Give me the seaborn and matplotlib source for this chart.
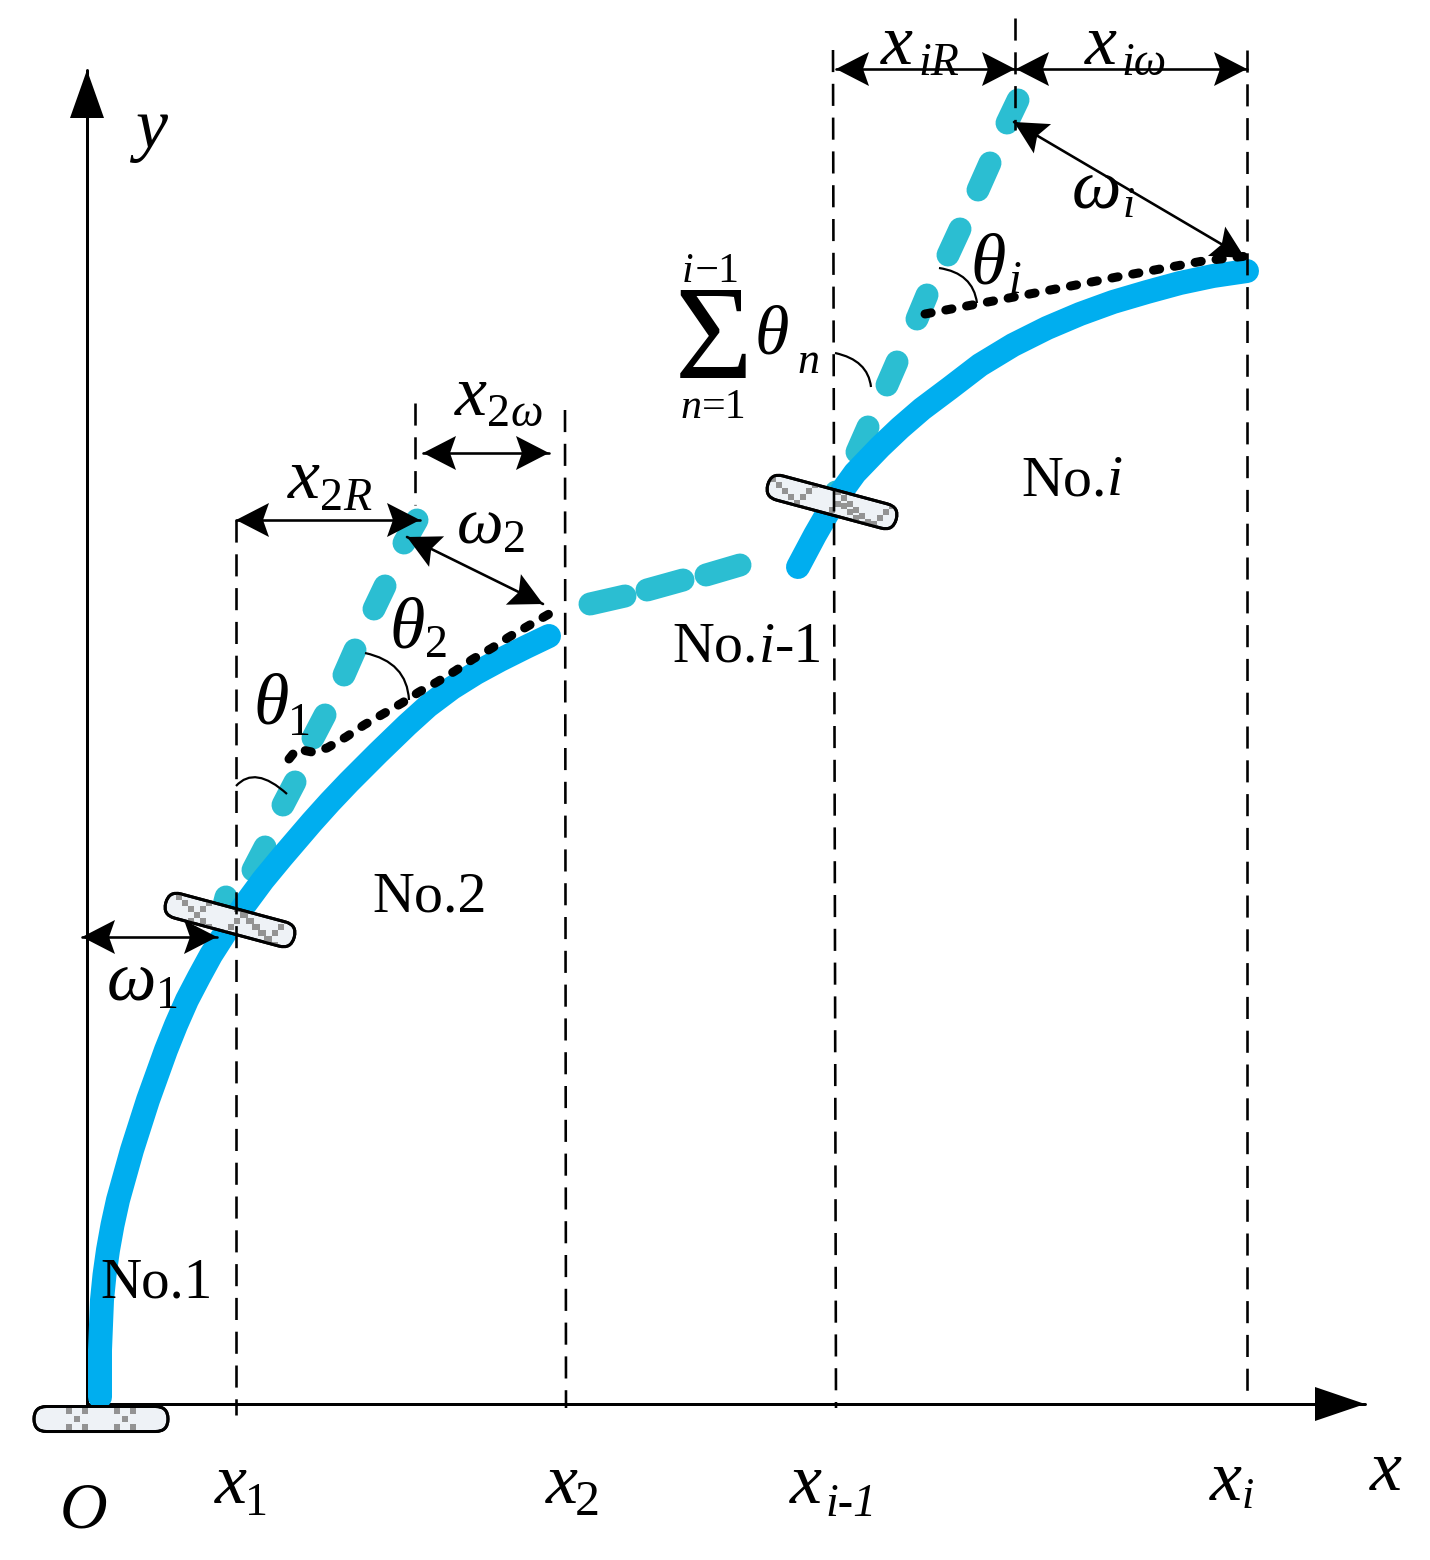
import numpy as np
import matplotlib
matplotlib.use("Agg")
import matplotlib.pyplot as plt
import seaborn as sns
from matplotlib.patches import FancyBboxPatch, PathPatch, Polygon
from matplotlib.path import Path
from matplotlib.transforms import Affine2D

# ---------- data (in picture pixels) ----------
link_a_x = [100, 100, 102, 104.5, 108, 112.5, 118, 125, 132, 140, 148, 157, 166, 176, 187, 199, 211,
            227, 246, 263, 282, 312, 330, 349, 378, 407, 428, 452, 476, 500, 526, 549]
link_a_y = [1397, 1350, 1300, 1275, 1250, 1225, 1200, 1175, 1150, 1125, 1100, 1075, 1050, 1025,
            1000, 977, 955, 930, 903, 880, 857, 822, 802, 782, 753, 725, 706, 688, 673, 660, 647, 636]
link_b_x = [798, 815, 834, 855, 880, 900, 922, 950, 980, 1013, 1047, 1080, 1113, 1147, 1180, 1213, 1247]
link_b_y = [567, 535, 502, 473, 447, 428, 409, 388, 365, 345, 328, 314, 302, 292, 283, 276, 271]

teal_segments = [
    ((222, 913), (226, 897)), ((253, 870), (265, 847)), ((283, 805), (295, 782)),
    ((313, 738), (325, 715)), ((344, 675), (355, 650)), ((374, 609), (385, 586)),
    ((404, 543), (417, 520)), ((590, 604), (625, 596)), ((647, 590), (683, 580)),
    ((706, 575), (740, 565)), ((830, 505), (836, 492)), ((857, 452), (868, 427)),
    ((887, 385), (897, 362)), ((917, 319), (927, 295)), ((948, 255), (960, 229)),
    ((978, 190), (990, 163)), ((1007, 123), (1018, 100)),
]
dot_a_x = [289, 297, 312, 327, 346, 364, 383, 402, 419, 437, 455, 473, 492, 509, 528, 549]
dot_a_y = [759, 749, 752, 748, 737, 725, 714, 703, 692, 682, 671, 659, 648, 637, 626, 614]
dot_b_x = [925, 1035, 1117, 1203, 1247]
dot_b_y = [314, 293, 277, 261, 256]

guide_lines = [
    (236, 236, 520, 1415), (565, 566, 410, 1408), (415, 415, 403, 505),
    (833, 836, 50, 1408), (1015, 1015, 18, 130), (1247, 1247, 50, 1393),
]
axis_y = ((87, 1404), (87, 70))
axis_x = ((87, 1404), (1365, 1404))
double_arrows = [
    ((82, 937), (217, 937)), ((236, 520), (420, 520)), ((423, 453), (549, 453)),
    ((407, 537), (543, 604)), ((836, 69), (1015, 69)), ((1016, 69), (1247, 69)),
    ((1014, 122), (1245, 258)),
]
# centre x, centre y, length, height, angle
clamps = [(101, 1419, 134, 25, 0), (230, 920, 133, 25, 15), (832, 502, 133, 25, 15)]
# crossing points of the grey checked marks of each clamp, and their square spacing
clamp_marks = [
    ([(77, 1419), (125, 1419)], 8),
    ([(197, 915), (243, 915), (269, 939)], 6),
    ([(797, 503), (844, 498), (868, 530)], 6),
]
arcs = [
    ((236, 786), (255, 765), (287, 794)), ((365, 653), (407, 662), (409, 700)),
    ((835, 353), (868, 360), (871, 387)), ((939, 268), (973, 273), (977, 303)),
]
# x, baseline y, text, em size in px, italic
labels = [
    (135, 148, "y", 72, True), (1370, 1490, "x", 72, True), (60, 1527, "O", 66, True),
    (215, 1503, "x", 72, True), (245, 1515, "1", 46, False),
    (546, 1503, "x", 72, True), (575, 1515, "2", 50, False),
    (790, 1503, "x", 72, True), (825, 1516, "i-1", 46, True),
    (1210, 1500, "x", 72, True), (1242, 1508, "i", 44, True),
    (107, 1000, "ω", 70, True), (156, 1008, "1", 46, False),
    (253, 723, "θ", 72, True), (288, 735, "1", 46, False),
    (389, 648, "θ", 72, True), (425, 657, "2", 46, False),
    (457, 543, "ω", 66, True), (503, 552, "2", 46, False),
    (288, 498, "x", 72, True), (320, 510, "2", 46, False), (343, 510, "R", 46, True),
    (455, 415, "x", 72, True), (487, 426, "2", 46, False), (510, 426, "ω", 46, True),
    (881, 64, "x", 72, True), (918, 75, "iR", 46, True),
    (1085, 64, "x", 72, True), (1121, 75, "iω", 46, True),
    (1072, 207, "ω", 70, True), (1123, 217, "i", 44, True),
    (970, 283, "θ", 72, True), (1008, 293, "i", 46, True),
    (675, 378, "Σ", 134, False), (755, 353, "θ", 70, True), (797, 373, "n", 44, True),
    (682, 282, "i−", 42, True), (717, 282, "1", 42, False),
    (680, 418, "n", 42, True), (702, 418, "=1", 42, False),
    (100, 1298, "No.1", 57, False), (372, 912, "No.2", 58, False),
    (1021, 495, "No.", 58, False), (1107, 495, "i", 58, True),
    (672, 662, "No.", 58, False), (759, 662, "i", 58, True), (775, 662, "-1", 58, False),
]

BLUE = "#00AEEF"
TEAL = "#2BBED2"
PX = 72 / 100  # points per pixel at 100 dpi

sns.set_theme(style="white", rc={"axes.grid": False})
plt.rcParams["font.family"] = ["Liberation Serif", "DejaVu Serif"]

fig = plt.figure(figsize=(14.3, 15.6), dpi=100, facecolor="white")
ax = fig.add_axes([0, 0, 1, 1])
ax.set_xlim(0, 1430)
ax.set_ylim(1560, 0)
ax.axis("off")

# axes of the diagram
for (p, q) in (axis_y, axis_x):
    ax.plot([p[0], q[0]], [p[1], q[1]], color="black", lw=3 * PX, zorder=2)


def head(tip, direction, length=33, half=17, notch=6, z=8):
    d = np.asarray(direction, float)
    d = d / np.hypot(*d)
    n = np.array([-d[1], d[0]])
    t = np.asarray(tip, float)
    base = t - d * length
    ax.add_patch(Polygon([t, base + n * half, base + d * notch, base - n * half],
                         closed=True, fc="black", ec="none", zorder=z))


head(axis_y[1], (0, -1), length=48, half=17, notch=0)
head(axis_x[1], (1, 0), length=50, half=17, notch=0)

# links
for xs, ys in ((link_a_x, link_a_y), (link_b_x, link_b_y)):
    sns.lineplot(x=xs, y=ys, sort=False, estimator=None, ax=ax, color=BLUE,
                 lw=24 * PX, solid_capstyle="round", solid_joinstyle="round", zorder=3)

for p, q in teal_segments:
    sns.lineplot(x=[p[0], q[0]], y=[p[1], q[1]], sort=False, estimator=None, ax=ax,
                 color=TEAL, lw=23 * PX, solid_capstyle="round", zorder=2.5)

# dotted virtual link
for xs, ys in ((dot_a_x, dot_a_y), (dot_b_x, dot_b_y)):
    ax.plot(xs, ys, color="black", lw=9 * PX, dash_capstyle="round",
            linestyle=(0, (0.7, 1.65)), zorder=5)

# clamps
for (cx, cy, w, h, ang), (marks, step) in zip(clamps, clamp_marks):
    tr = Affine2D().rotate_deg_around(cx, cy, ang) + ax.transData
    box = FancyBboxPatch((cx - w / 2 + h / 2, cy), w - h, 0.01,
                         boxstyle=f"round,pad={h / 2},rounding_size={h / 2}",
                         fc="#EEF2F6", ec="black", lw=3 * PX, transform=tr, zorder=4)
    ax.add_patch(box)
    for mx, my in marks:
        sx, sy = [], []
        for t in range(-4, 5):
            sx += [mx + t * step, mx + t * step]
            sy += [my + t * step, my - t * step]
        pts = ax.scatter(sx, sy, s=(6 * PX) ** 2, marker="s", color="#939393",
                         linewidths=0, zorder=4.5)
        pts.set_clip_path(box)
    # outline again, over the marks
    ax.add_patch(FancyBboxPatch((cx - w / 2 + h / 2, cy), w - h, 0.01,
                                boxstyle=f"round,pad={h / 2},rounding_size={h / 2}",
                                fc="none", ec="black", lw=3 * PX, transform=tr, zorder=4.6))

# dashed guides
for x0, x1, y0, y1 in guide_lines:
    ax.plot([x0, x1], [y0, y1], color="black", lw=2.6 * PX,
            linestyle=(0, (8.5, 4.5)), zorder=6)

# dimension arrows
for p, q in double_arrows:
    ax.plot([p[0], q[0]], [p[1], q[1]], color="black", lw=2.6 * PX, zorder=7)
    d = np.subtract(q, p)
    head(q, d)
    head(p, -d)

# angle arcs
for a, b, c in arcs:
    ax.add_patch(PathPatch(Path([a, b, c], [Path.MOVETO, Path.CURVE3, Path.CURVE3]),
                           fc="none", ec="black", lw=2.2 * PX, zorder=7))

for x, y, s, em, it in labels:
    ax.text(x, y, s, fontsize=em * PX, style="italic" if it else "normal",
            ha="left", va="baseline", color="black", zorder=9)

fig.savefig("out.png", dpi=100, facecolor="white")
